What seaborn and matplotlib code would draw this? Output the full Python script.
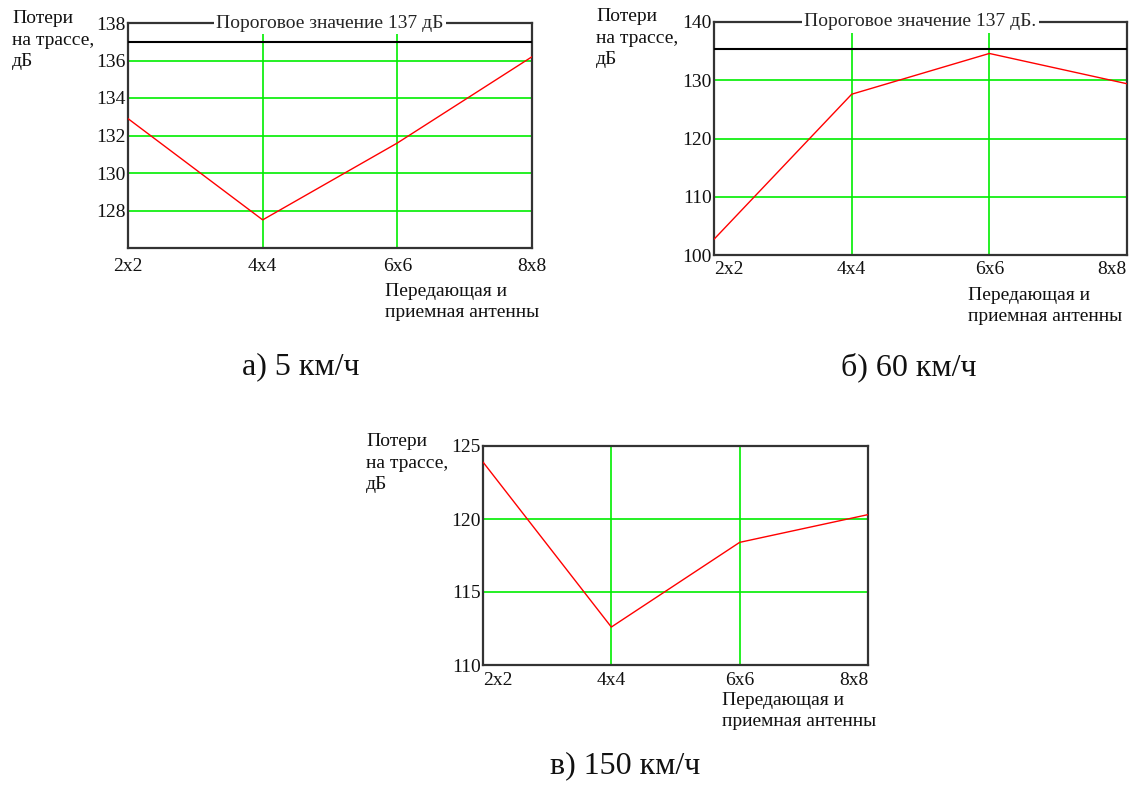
import matplotlib
matplotlib.use("Agg")
import matplotlib.pyplot as plt
import seaborn as sns

# antenna configurations (x axis)
antennas = ["2x2", "4x4", "6x6", "8x8"]
n_elems = [2, 4, 6, 8]

# path loss, dB
loss_5 = [132.9, 127.5, 131.6, 136.2]
loss_60 = [102.7, 127.6, 134.6, 129.4]
loss_150 = [123.9, 112.6, 118.4, 120.3]

# threshold lines as drawn
threshold_5 = 137.0
threshold_60 = 135.4

ylim_5, yticks_5 = (126, 138), [128, 130, 132, 134, 136, 138]
ylim_60, yticks_60 = (100, 140), [100, 110, 120, 130, 140]
ylim_150, yticks_150 = (110, 125), [110, 115, 120, 125]

ylabel = "Потери\nна трассе,\nдБ"
xlabel = "Передающая и\nприемная антенны"
captions = ["а) 5 км/ч", "б) 60 км/ч", "в) 150 км/ч"]

sns.set_style("white")
plt.rcParams["font.family"] = ["Liberation Serif", "DejaVu Serif"]

W, H = 1134, 785
fig = plt.figure(figsize=(W / 100, H / 100), dpi=100)


def add_axes(left, top, right, bottom):
    return fig.add_axes([left / W, 1 - bottom / H, (right - left) / W, (bottom - top) / H])


def draw_panel(ax, values, ylim, yticks, threshold=None, thr_text=None,
               edge_align=False, xpad=6):
    sns.lineplot(x=n_elems, y=values, ax=ax, color="red", lw=1.0, zorder=3)
    ax.set_xlim(2, 8)
    ax.set_ylim(*ylim)
    ax.set_xticks(n_elems)
    ax.set_xticklabels(antennas)
    ax.set_yticks(yticks)
    ax.tick_params(length=0, labelsize=14, colors="#111111")
    ax.tick_params(axis="x", pad=xpad)
    ax.tick_params(axis="y", pad=1.5)
    ax.grid(True, color="#00ee00", lw=1.2)
    for sp in ax.spines.values():
        sp.set_visible(True)
        sp.set_color("#333333")
        sp.set_linewidth(1.6)
    if edge_align:
        labels = ax.get_xticklabels()
        labels[0].set_ha("left")
        labels[-1].set_ha("right")
    if threshold is not None:
        ax.axhline(threshold, color="black", lw=1.5, zorder=4)
        ax.text(0.5, 1.0, thr_text, transform=ax.transAxes, ha="center",
                va="center", fontsize=14, zorder=6, clip_on=False,
                bbox=dict(facecolor="white", edgecolor="none", pad=1.5))


ax_a = add_axes(128, 23, 532, 248)
draw_panel(ax_a, loss_5, ylim_5, yticks_5, threshold_5,
           "Пороговое значение 137 дБ", xpad=7)

ax_b = add_axes(714, 22, 1127, 255)
draw_panel(ax_b, loss_60, ylim_60, yticks_60, threshold_60,
           "Пороговое значение 137 дБ.", edge_align=True, xpad=4)

ax_c = add_axes(483, 446, 868, 665)
draw_panel(ax_c, loss_150, ylim_150, yticks_150, edge_align=True, xpad=5)

# axis titles (placed like the original)
for x, y in [(12, 10), (596, 8), (366, 433)]:
    fig.text(x / W, 1 - y / H, ylabel, fontsize=14, va="top", ha="left",
             linespacing=1.35, color="#111111")
for x, y in [(385, 283), (968, 287), (722, 692)]:
    fig.text(x / W, 1 - y / H, xlabel, fontsize=14, va="top", ha="left",
             linespacing=1.3, color="#111111")

for (x, y), cap in zip([(301, 367), (909, 367), (625, 766)], captions):
    fig.text(x / W, 1 - y / H, cap, fontsize=23, va="center", ha="center",
             color="#111111")

fig.savefig("out.png", dpi=100, facecolor="white")
